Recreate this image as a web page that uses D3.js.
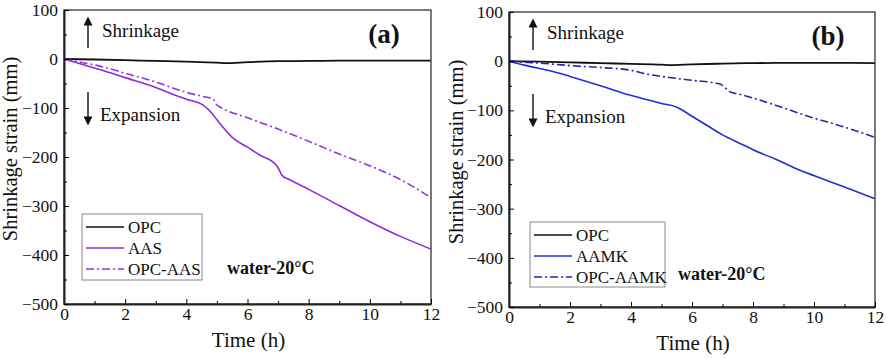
<!DOCTYPE html>
<html>
<head>
<meta charset="utf-8">
<script src="https://cdn.jsdelivr.net/npm/d3@7"></script>
<style>
  body { margin: 0; background: #fff; }
  svg text { font-family: "Liberation Serif", "Times New Roman", serif; fill: #111; }
</style>
</head>
<body>
<svg id="chart" width="886" height="359"></svg>
<script>
// values
const xTicks = [0, 2, 4, 6, 8, 10, 12];
const xMinor = [1, 3, 5, 7, 9, 11];
const yTicks = [100, 0, -100, -200, -300, -400, -500];
const yMinor = [50, -50, -150, -250, -350, -450];

// panel (a)
const opcTimeA = [0, 1, 2, 3, 4, 5, 5.3, 6, 7, 8, 9, 10, 11, 12];
const opcValA  = [0, -1, -2.5, -4, -5.5, -7.5, -8.5, -6.5, -4.5, -4, -3.5, -3.5, -3.5, -3.5];
const aasTime  = [0, 0.5, 1.2, 2, 3, 3.6, 4, 4.55, 4.8, 5, 5.5, 6, 6.4, 6.93, 7.05, 7.12, 7.4, 8, 9, 10, 11, 12];
const aasVal   = [0, -9, -22, -38, -58, -73, -82, -94, -108, -124, -160, -180, -196, -216, -228, -237, -247, -266, -299, -332, -362, -388];
const opcAasTime = [0, 0.5, 1.2, 2, 3, 3.6, 4, 4.5, 4.88, 5, 5.1, 6, 7, 8, 9, 10, 11, 12];
const opcAasVal  = [0, -6, -15, -29, -47, -60, -68, -76, -82, -94, -98, -120, -143, -168, -194, -218, -246, -283];

// panel (b)
const opcTimeB = [0, 1, 2, 3, 4, 5, 5.3, 6, 7, 8, 9, 10, 11, 12];
const opcValB  = [0, -1, -2.5, -4, -5.5, -7, -8, -6.5, -5, -4, -3.5, -3.5, -3.5, -4];
const aamkTime = [0, 0.5, 1.44, 2, 3, 3.96, 4.5, 5, 5.49, 6, 6.58, 7, 7.67, 8, 8.76, 9.5, 10.4, 11, 12];
const aamkVal  = [0, -8, -21, -31, -50, -69, -78, -86, -93, -112, -134, -150, -170, -180, -200, -221, -242, -256, -280];
const opcAamkTime = [0, 0.5, 1.44, 2, 3, 3.96, 4.5, 5.49, 6, 6.9, 7.05, 7.23, 7.6, 8.21, 9, 9.85, 11, 12];
const opcAamkVal  = [0, -2, -6, -9, -13, -18, -26, -35, -39, -46, -52, -62, -68, -79, -95, -113, -134, -155];

const dashDot = "8,3,2,3";
const serif = "'Liberation Serif', 'Times New Roman', serif";

const panels = [
  {
    left: 64, right: 431, top: 10, bottom: 304, label: "(a)", titleX: 17, titleY: 149,
    legend: { x: 82, y: 214, w: 120, h: 66 }, water: { x: 227, y: 274 },
    series: [
      { name: "OPC", t: opcTimeA, v: opcValA, color: "#111", width: 1.8, dash: null },
      { name: "AAS", t: aasTime, v: aasVal, color: "#8f2bd6", width: 1.6, dash: null },
      { name: "OPC-AAS", t: opcAasTime, v: opcAasVal, color: "#9436d8", width: 1.6, dash: dashDot }
    ]
  },
  {
    left: 509, right: 875, top: 12, bottom: 307, label: "(b)", titleX: 463, titleY: 152,
    legend: { x: 530, y: 222, w: 135, h: 65 }, water: { x: 678, y: 280 },
    series: [
      { name: "OPC", t: opcTimeB, v: opcValB, color: "#111", width: 1.8, dash: null },
      { name: "AAMK", t: aamkTime, v: aamkVal, color: "#1f30d2", width: 1.6, dash: null },
      { name: "OPC-AAMK", t: opcAamkTime, v: opcAamkVal, color: "#2626a8", width: 1.6, dash: dashDot }
    ]
  }
];

let svg = d3.select("#chart");

// arrow heads for the shrinkage / expansion notes
svg.append("defs").append("marker")
  .attr("id", "head")
  .attr("viewBox", "0 0 10 10")
  .attr("refX", 4).attr("refY", 5)
  .attr("markerWidth", 10).attr("markerHeight", 9)
  .attr("markerUnits", "userSpaceOnUse")
  .attr("orient", "auto")
  .append("path")
  .attr("d", "M0,0 L10,5 L0,10 z")
  .attr("fill", "#111");

panels.forEach(function(p) {
  let x = d3.scaleLinear().domain([0, 12]).range([p.left, p.right]);
  let y = d3.scaleLinear().domain([-500, 100]).range([p.bottom, p.top]);
  let g = svg.append("g");

  // lines
  let line = d3.line()
    .curve(d3.curveMonotoneX)
    .x(function(d) { return x(d[0]); })
    .y(function(d) { return y(d[1]); });

  p.series.forEach(function(s) {
    g.append("path")
      .datum(s.t.map(function(t, i) { return [t, s.v[i]]; }))
      .attr("fill", "none")
      .attr("stroke", s.color)
      .attr("stroke-width", s.width)
      .attr("stroke-dasharray", s.dash)
      .attr("stroke-linejoin", "round")
      .attr("d", line);
  });

  // frame
  g.append("rect")
    .attr("x", p.left).attr("y", p.top)
    .attr("width", p.right - p.left).attr("height", p.bottom - p.top)
    .attr("fill", "none").attr("stroke", "#444").attr("stroke-width", 1.4);

  // x axis
  let xa = g.append("g")
    .attr("transform", "translate(0," + p.bottom + ")")
    .call(d3.axisBottom(x).tickValues(xTicks).tickSizeInner(-5).tickSizeOuter(0).tickPadding(4));
  xa.select(".domain").attr("stroke", "#222").attr("stroke-width", 2);
  xa.selectAll("text").style("font-size", "17.5px").style("font-family", serif).attr("fill", "#111");
  g.append("g")
    .attr("transform", "translate(0," + p.bottom + ")")
    .call(d3.axisBottom(x).tickValues(xMinor).tickSizeInner(-3).tickSizeOuter(0).tickFormat(""))
    .select(".domain").remove();

  // y axis
  let ya = g.append("g")
    .attr("transform", "translate(" + p.left + ",0)")
    .call(d3.axisLeft(y).tickValues(yTicks).tickSizeInner(-5).tickSizeOuter(0).tickPadding(6));
  ya.select(".domain").attr("stroke", "#222").attr("stroke-width", 2);
  ya.selectAll("text").style("font-size", "17.5px").style("font-family", serif).attr("fill", "#111");
  g.append("g")
    .attr("transform", "translate(" + p.left + ",0)")
    .call(d3.axisLeft(y).tickValues(yMinor).tickSizeInner(-3).tickSizeOuter(0).tickFormat(""))
    .select(".domain").remove();

  // axis titles
  g.append("text")
    .attr("x", (p.left + p.right) / 2 + 1).attr("y", p.bottom + 43)
    .attr("text-anchor", "middle")
    .style("font-family", serif).style("font-size", "21px")
    .text("Time (h)");
  g.append("text")
    .attr("transform", "translate(" + p.titleX + "," + p.titleY + ") rotate(-90)")
    .attr("text-anchor", "middle")
    .style("font-family", serif).style("font-size", "20.5px")
    .text("Shrinkage strain (mm)");

  // panel label
  g.append("text")
    .attr("x", p.right - 47).attr("y", p.top + 33)
    .attr("text-anchor", "middle")
    .style("font-family", serif).style("font-size", "27px").style("font-weight", "bold")
    .text(p.label);

  // shrinkage / expansion notes
  let ax = p.left + 24;
  g.append("line")
    .attr("x1", ax).attr("x2", ax).attr("y1", p.top + 38).attr("y2", p.top + 12)
    .attr("stroke", "#111").attr("stroke-width", 1.4).attr("marker-end", "url(#head)");
  g.append("text")
    .attr("x", ax + 14).attr("y", p.top + 27)
    .style("font-family", serif).style("font-size", "19px")
    .text("Shrinkage");
  g.append("line")
    .attr("x1", ax).attr("x2", ax).attr("y1", p.top + 82).attr("y2", p.top + 110)
    .attr("stroke", "#111").attr("stroke-width", 1.4).attr("marker-end", "url(#head)");
  g.append("text")
    .attr("x", ax + 12).attr("y", p.top + 111)
    .style("font-family", serif).style("font-size", "19px")
    .text("Expansion");

  // legend
  let L = p.legend;
  g.append("rect")
    .attr("x", L.x).attr("y", L.y).attr("width", L.w).attr("height", L.h)
    .attr("fill", "#fff").attr("stroke", "#888").attr("stroke-width", 1);
  p.series.forEach(function(s, i) {
    let yy = L.y + 13 + i * 21;
    g.append("line")
      .attr("x1", L.x + 4).attr("x2", L.x + 42).attr("y1", yy).attr("y2", yy)
      .attr("stroke", s.color)
      .attr("stroke-width", s.dash ? 1.5 : 1.4)
      .attr("stroke-dasharray", s.dash);
    g.append("text")
      .attr("x", L.x + 46).attr("y", yy + 6)
      .style("font-family", serif).style("font-size", "17px")
      .text(s.name);
  });

  g.append("text")
    .attr("x", p.water.x).attr("y", p.water.y)
    .style("font-family", serif).style("font-size", "18px").style("font-weight", "bold")
    .text("water-20\u00b0C");
});
</script>
</body>
</html>
